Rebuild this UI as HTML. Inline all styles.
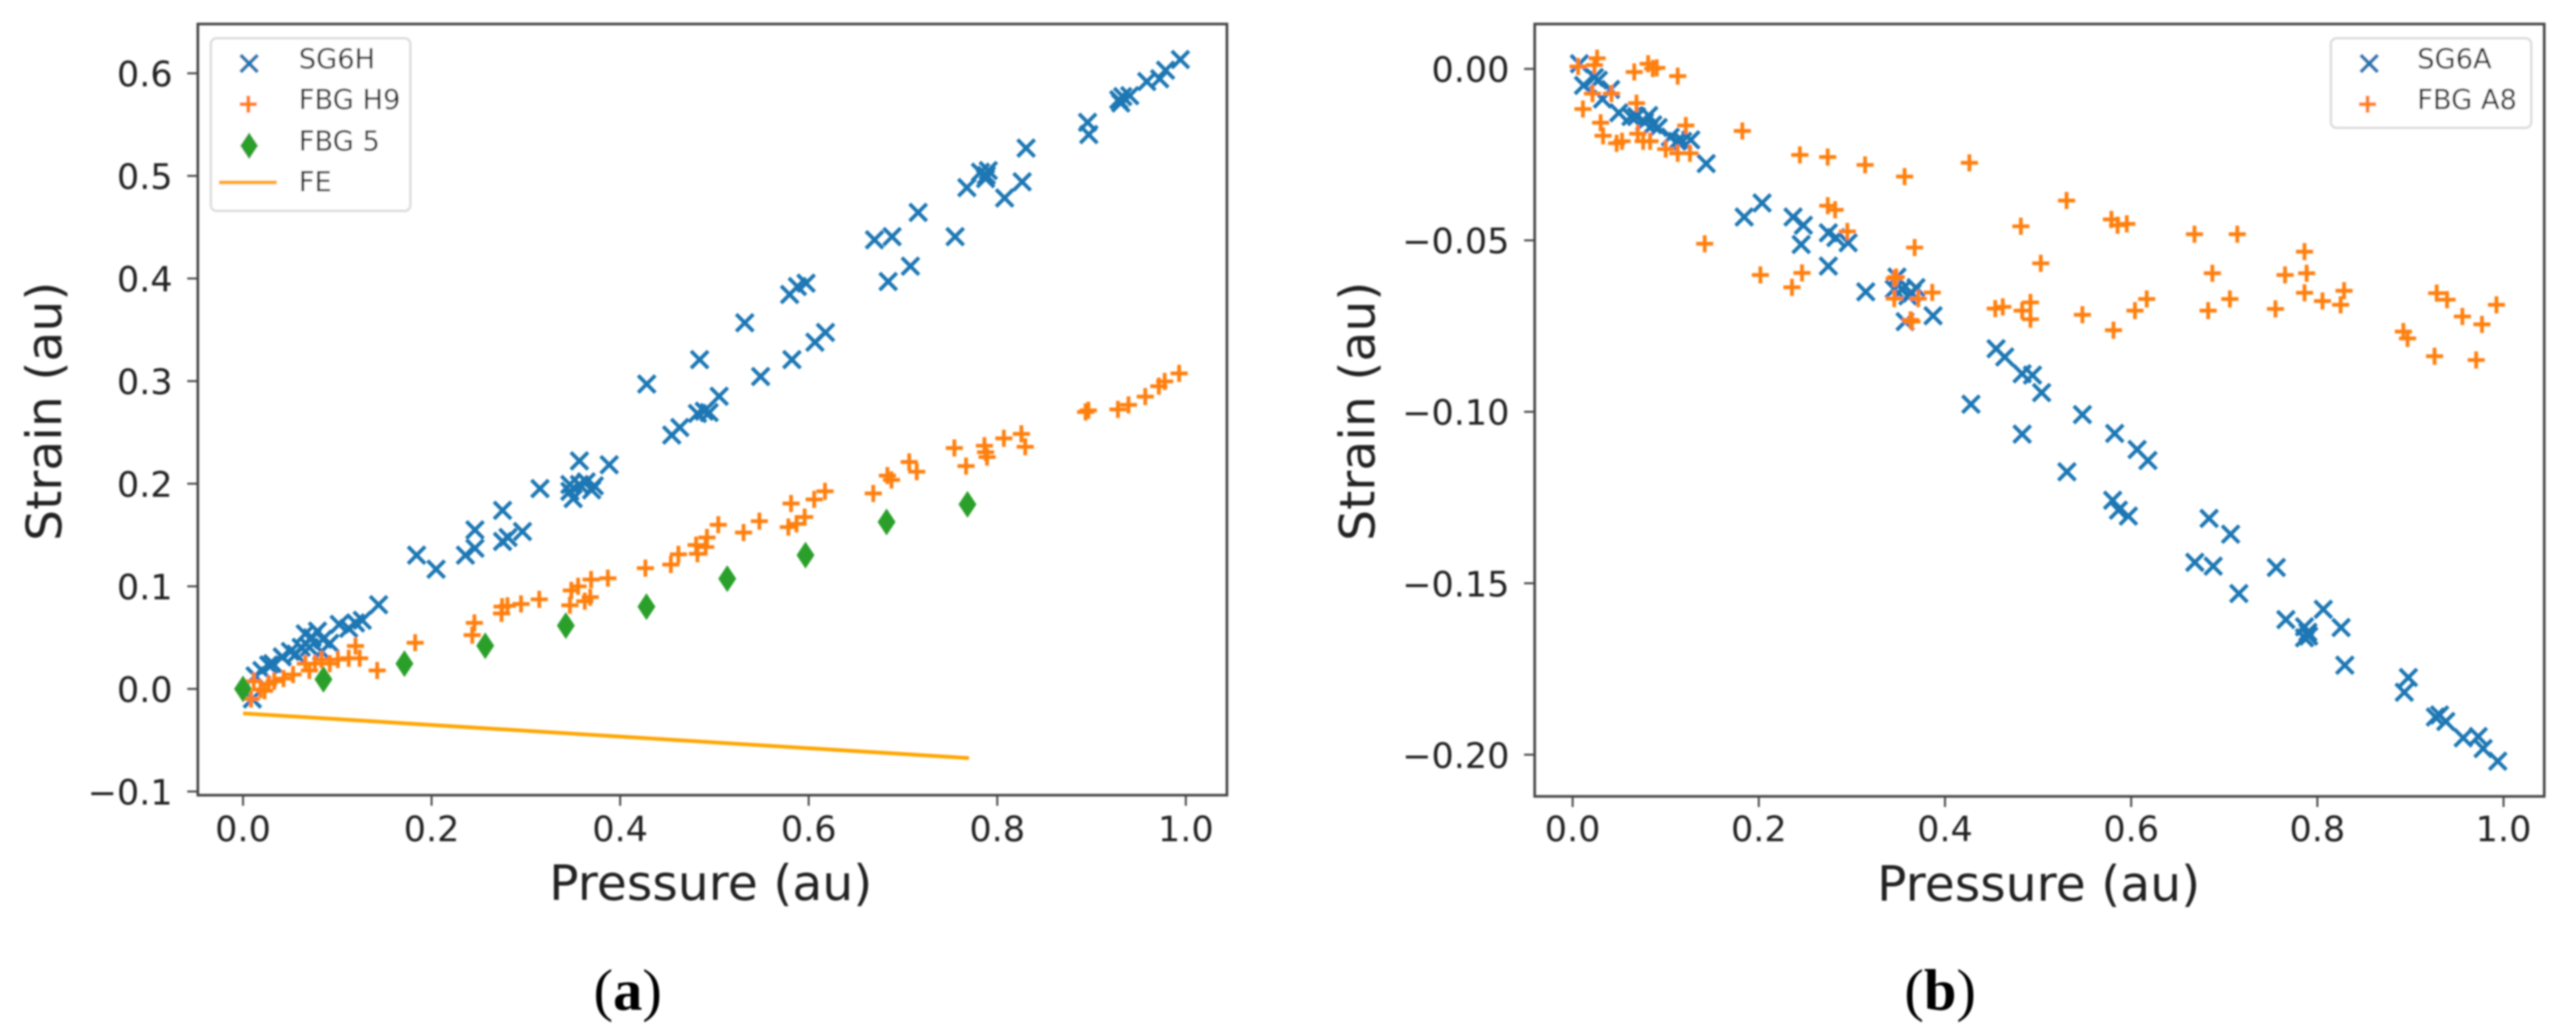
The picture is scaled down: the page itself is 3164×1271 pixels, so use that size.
<!DOCTYPE html>
<html lang="en">
<head>
<meta charset="utf-8">
<title>Strain vs Pressure</title>
<style>
  html, body { margin: 0; padding: 0; background: #fff; }
  svg { display: block; }
  text { font-family: "DejaVu Sans", "Liberation Sans", sans-serif; fill: #222; }
  .caption { font-family: "Liberation Serif", serif; fill: #000; font-size: 72px; }
  .caption tspan { font-weight: bold; }
</style>
</head>
<body>
<svg id="figure" xmlns="http://www.w3.org/2000/svg" width="3164" height="1271" viewBox="0 0 3164 1271">
  <defs>
    <filter id="soft" x="-2%" y="-2%" width="104%" height="104%"><feGaussianBlur stdDeviation="1"/></filter>
  </defs>
  <rect width="3164" height="1271" fill="#fff"/>
  <g id="root" filter="url(#soft)"></g>
</svg>
<script>
// ---- shared axis data
const pressureTicks = [0, 0.2, 0.4, 0.6, 0.8, 1.0];
const pressureTickLabels = ["0.0", "0.2", "0.4", "0.6", "0.8", "1.0"];
const strainTicksA = [-0.1, 0, 0.1, 0.2, 0.3, 0.4, 0.5, 0.6];
const strainTickLabelsA = ["\u22120.1", "0.0", "0.1", "0.2", "0.3", "0.4", "0.5", "0.6"];
const strainTicksB = [0, -0.05, -0.10, -0.15, -0.20];
const strainTickLabelsB = ["0.00", "\u22120.05", "\u22120.10", "\u22120.15", "\u22120.20"];

// ---- panel (a) series
const sg6hPressure = [.0099,.0128,.020,.0272,.0315,.0416,.0502,.056,.0617,.066,.0704,.0733,.079,.0833,.0848,.092,.102,.1121,.1193,.1265,.1438,.1841,.2048,.2359,.246,.246,.2753,.2753,.2811,.2964,.3150,.3467,.3467,.3502,.3568,.3568,.364,.3698,.3726,.3884,.4282,.4547,.4633,.482,.4892,.4944,.505,.4843,.549,.5822,.5322,.6066,.6178,.5798,.588,.5972,.6843,.7079,.6698,.6884,.7161,.7553,.7678,.7822,.7884,.7905,.7876,.8078,.8264,.8306,.8958,.8971,.9289,.9331,.9405,.931,.9586,.9723,.9785,.9942];
const sg6hStrain = [-.0098,.0127,.018,.0233,.0246,.0312,.0365,.0339,.0405,.0537,.0405,.0498,.0563,.0365,.0484,.0444,.0629,.059,.0643,.0669,.082,.1304,.1167,.1304,.155,.1371,.174,.1437,.1476,.1534,.1952,.1992,.1926,.1855,.2222,.1992,.2018,.1939,.1979,.2185,.2971,.2474,.2548,.2685,.2706,.2693,.2852,.3209,.3045,.3209,.3568,.3379,.3474,.3844,.3922,.3954,.397,.4120,.4377,.4408,.4644,.4408,.4886,.5036,.5005,.5052,.4973,.4785,.4942,.5271,.5522,.5403,.5742,.5773,.5782,.5710,.592,.5946,.603,.6134];
const fbgH9Pressure = [.0085,.0114,.0186,.0229,.0272,.033,.043,.0531,.0661,.0704,.0762,.0833,.092,.1006,.1121,.1237,.1193,.1423,.1826,.2454,.2431,.2748,.2742,.2805,.2949,.3142,.3467,.3482,.3554,.3625,.3683,.3692,.387,.4268,.4538,.4618,.482,.4806,.4907,.4921,.5041,.5309,.5477,.5784,.5871,.5957,.5813,.6058,.6173,.6685,.6835,.6878,.7066,.7146,.7545,.7864,.7669,.7892,.7876,.807,.8256,.8297,.8937,.8966,.928,.9392,.957,.9714,.9776,.9929];
const fbgH9Strain = [-.0098,.0074,-.0005,-.0018,.0048,.0074,.0101,.014,.0246,.018,.0246,.0286,.0246,.0286,.0299,.0299,.0418,.018,.045,.0643,.0524,.0802,.0736,.081,.0828,.0873,.0815,.096,.1,.0855,.0894,.1066,.1079,.1177,.1212,.1312,.1317,.1402,.1383,.1476,.16,.1524,.1635,.1577,.1609,.1675,.1807,.1847,.1926,.1905,.2079,.2037,.2212,.2117,.2348,.2370,.2172,.226,.2307,.2442,.2486,.236,.2699,.2715,.2724,.2768,.2849,.295,.2997,.3075];
const fbg5Pressure = [0,.0853,.1712,.2569,.3424,.4279,.5136,.5966,.6826,.7684];
const fbg5Strain = [0,.0093,.0246,.0421,.0617,.0802,.1074,.1304,.1627,.1799];
const fePressure = [0, 0.77];
const feStrain = [-0.0238, -0.0674];

// ---- panel (b) series
const sg6aPressure = [.0073,.0117,.0234,.0277,.0321,.0496,.0408,.0627,.0686,.0817,.0861,.0919,.0773,.105,.1123,.1182,.1269,.1435,.1843,.2035,.2368,.2479,.2455,.2747,.2828,.296,.2747,.3149,.3484,.3455,.3543,.3601,.3688,.3645,.3572,.3872,.4549,.4642,.4829,.494,.5038,.4279,.4829,.5476,.5823,.6064,.531,.618,.5801,.5863,.597,.6837,.7068,.6684,.6881,.7157,.7559,.7662,.7862,.7898,.7862,.7907,.8064,.8255,.8295,.8978,.8934,.9268,.9313,.938,.9567,.9728,.9781,.9938];
const sg6aStrain = [.0015,-.0048,-.0025,-.0033,-.0088,-.0128,-.006,-.0139,-.0139,-.0136,-.0163,-.0171,-.0155,-.0199,-.0211,-.0211,-.0207,-.0276,-.0432,-.0391,-.0432,-.0456,-.0512,-.0478,-.0492,-.0507,-.0575,-.065,-.0607,-.0642,-.0642,-.0662,-.0638,-.0654,-.0737,-.072,-.0816,-.084,-.0889,-.0893,-.0944,-.0978,-.1065,-.1008,-.1063,-.111,-.1175,-.1142,-.1258,-.1287,-.1304,-.1311,-.1357,-.1439,-.145,-.153,-.1454,-.1606,-.1627,-.1643,-.1659,-.1654,-.1576,-.1629,-.1739,-.1775,-.1818,-.189,-.1884,-.1903,-.1951,-.1947,-.1982,-.2019];
const fbgA8Pressure = [.0059,.0263,.0234,.0662,.0811,.0861,.0904,.1129,.0213,.0417,.0111,.0686,.0301,.0327,.0473,.0531,.07,.0758,.0832,.1,.1129,.126,.1216,.1823,.1419,.2017,.2356,.2464,.2441,.274,.3142,.3566,.4262,.2741,.282,.2951,.3476,.3455,.3455,.3674,.3712,.3863,.363,.3645,.454,.4621,.4815,.5029,.4918,.4829,.4918,.5306,.5476,.5788,.5854,.5953,.581,.6041,.6167,.668,.714,.6872,.6827,.706,.755,.7653,.7862,.7885,.7862,.8055,.8287,.825,.8924,.8969,.9282,.9393,.9558,.9768,.9924,.9259,.9706];
const fbgA8Strain = [.0007,.0031,.0011,-.0009,.0015,.0001,.0003,-.0021,-.0072,-.0072,-.0117,-.01,-.0157,-.0195,-.0217,-.0211,-.0189,-.0211,-.0211,-.0234,-.0246,-.0246,-.0165,-.0181,-.051,-.0601,-.0637,-.0595,-.0251,-.0257,-.028,-.0314,-.0274,-.0399,-.0411,-.0474,-.0607,-.0611,-.067,-.0521,-.067,-.0652,-.0732,-.0737,-.0699,-.0694,-.0459,-.0567,-.0681,-.0705,-.073,-.0384,-.0717,-.0439,-.0456,-.0452,-.0762,-.0705,-.0671,-.0482,-.0482,-.0596,-.0705,-.0671,-.07,-.0601,-.0533,-.0596,-.0653,-.0677,-.0647,-.0688,-.0766,-.0786,-.0654,-.0673,-.0722,-.0745,-.0688,-.0838,-.0849];

const SVG_NS = "http://www.w3.org/2000/svg";
const root = document.getElementById("root");
const BLUE = "#1f77b4", ORANGE = "#ff7f0e", GREEN = "#2ca02c", LINE = "#ffa500", FRAME = "#444";

function make(parent, tag, attrs, txt) {
  const e = document.createElementNS(SVG_NS, tag);
  for (const k in attrs) e.setAttribute(k, attrs[k]);
  if (txt !== undefined) e.textContent = txt;
  parent.appendChild(e);
  return e;
}

// axis functions
const xA = v => 298.5 + 1158 * v;
const yA = v => 846 - 1260 * v;
const xB = v => 1931.6 + 1143.4 * v;
const yB = v => 84.6 - 4211 * v;

function crossPath(cx, cy) {
  const r = 10.5;
  return `M${cx-r} ${cy-r}L${cx+r} ${cy+r}M${cx-r} ${cy+r}L${cx+r} ${cy-r}`;
}
function plusPath(cx, cy) {
  const r = 10.5;
  return `M${cx-r} ${cy}L${cx+r} ${cy}M${cx} ${cy-r}L${cx} ${cy+r}`;
}
function diamondPath(cx, cy) {
  return `M${cx} ${cy-16.5}L${cx+11} ${cy}L${cx} ${cy+16.5}L${cx-11} ${cy}Z`;
}

function drawFrame(parent, left, top, right, bottom) {
  const f = make(parent, "rect", {x:left, y:top, width:right-left, height:bottom-top, fill:"none", stroke:FRAME, "stroke-width":3.2});
  
  
}

function drawXTicks(parent, xf, bottom) {
  pressureTicks.forEach((v, i) => {
    const t = make(parent, "line", {x1:xf(v), x2:xf(v), y1:bottom, y2:bottom+13, stroke:FRAME, "stroke-width":2.4});
    
    
    const l = make(parent, "text", {x:xf(v), y:1033, "text-anchor":"middle", "font-size":43}, pressureTickLabels[i]);
    
    
  });
}

function drawYTicks(parent, yf, left, ticks, labels) {
  ticks.forEach((v, i) => {
    const t = make(parent, "line", {x1:left-13, x2:left, y1:yf(v), y2:yf(v), stroke:FRAME, "stroke-width":2.4});
    
    
    const l = make(parent, "text", {x:left-31, y:yf(v)+16, "text-anchor":"end", "font-size":43}, labels[i]);
    
    
  });
}

function drawCrosses(parent, xf, yf, xs, ys, color) {
  xs.forEach((v, i) => {
    const m = make(parent, "path", {d:crossPath(xf(v), yf(ys[i])), stroke:color, "stroke-width":4.6, fill:"none"});
    
    
  });
}
function drawPluses(parent, xf, yf, xs, ys, color) {
  xs.forEach((v, i) => {
    const m = make(parent, "path", {d:plusPath(xf(v), yf(ys[i])), stroke:color, "stroke-width":4.6, fill:"none"});
    
    
  });
}
function drawDiamonds(parent, xf, yf, xs, ys, color) {
  xs.forEach((v, i) => {
    const m = make(parent, "path", {d:diamondPath(xf(v), yf(ys[i])), fill:color});
    
    
  });
}

function legendText(parent, x, y, s) {
  const t = make(parent, "text", {x:x, y:y, "font-size":33.5}, s);
  
  
}

// ---- panel (a)
const panelA = make(root, "g", {});


drawCrosses(panelA, xA, yA, sg6hPressure, sg6hStrain, BLUE);
drawPluses(panelA, xA, yA, fbgH9Pressure, fbgH9Strain, ORANGE);
drawDiamonds(panelA, xA, yA, fbg5Pressure, fbg5Strain, GREEN);
const feLine = make(panelA, "polyline", {points: fePressure.map((v, i) => xA(v) + "," + yA(feStrain[i])).join(" "), fill:"none", stroke:LINE, "stroke-width":4.6});


drawFrame(panelA, 243, 29.5, 1507, 976.5);
drawXTicks(panelA, xA, 976.5);
drawYTicks(panelA, yA, 243, strainTicksA, strainTickLabelsA);

const xTitleA = make(panelA, "text", {x:873, y:1105, "text-anchor":"middle", "font-size":60}, "Pressure (au)");


const yTitleA = make(panelA, "text", {transform:"translate(75 505) rotate(-90)", "text-anchor":"middle", "font-size":60}, "Strain (au)");



const legendA = make(panelA, "g", {});


const boxA = make(legendA, "rect", {x:259, y:47, width:245, height:212, rx:7, fill:"#fff", stroke:"#ddd", "stroke-width":3});


const keyA1 = make(legendA, "path", {d:crossPath(306, 78), stroke:BLUE, "stroke-width":4.6, fill:"none"});


const keyA2 = make(legendA, "path", {d:plusPath(305, 128), stroke:ORANGE, "stroke-width":4.6, fill:"none"});


const keyA3 = make(legendA, "path", {d:diamondPath(306, 179), fill:GREEN});


const keyA4 = make(legendA, "line", {x1:269, x2:340, y1:224, y2:224, stroke:LINE, "stroke-width":4.6});


legendText(legendA, 367, 84, "SG6H");
legendText(legendA, 367, 134, "FBG H9");
legendText(legendA, 367, 185, "FBG 5");
legendText(legendA, 367, 235, "FE");

const capA = make(root, "text", {x:771, y:1240, "text-anchor":"middle", class:"caption"});


capA.innerHTML = "(<tspan>a</tspan>)";

// ---- panel (b)
const panelB = make(root, "g", {});


drawCrosses(panelB, xB, yB, sg6aPressure, sg6aStrain, BLUE);
drawPluses(panelB, xB, yB, fbgA8Pressure, fbgA8Strain, ORANGE);
drawFrame(panelB, 1885, 29.5, 3125, 978);
drawXTicks(panelB, xB, 978);
drawYTicks(panelB, yB, 1885, strainTicksB, strainTickLabelsB);

const xTitleB = make(panelB, "text", {x:2504, y:1106, "text-anchor":"middle", "font-size":60}, "Pressure (au)");


const yTitleB = make(panelB, "text", {transform:"translate(1688 505) rotate(-90)", "text-anchor":"middle", "font-size":60}, "Strain (au)");



const legendB = make(panelB, "g", {});


const boxB = make(legendB, "rect", {x:2863, y:47, width:246, height:110, rx:7, fill:"#fff", stroke:"#ddd", "stroke-width":3});


const keyB1 = make(legendB, "path", {d:crossPath(2910, 78), stroke:BLUE, "stroke-width":4.6, fill:"none"});


const keyB2 = make(legendB, "path", {d:plusPath(2908, 128), stroke:ORANGE, "stroke-width":4.6, fill:"none"});


legendText(legendB, 2969, 84, "SG6A");
legendText(legendB, 2969, 134, "FBG A8");

const capB = make(root, "text", {x:2383, y:1240, "text-anchor":"middle", class:"caption"});


capB.innerHTML = "(<tspan>b</tspan>)";
</script>
</body>
</html>
